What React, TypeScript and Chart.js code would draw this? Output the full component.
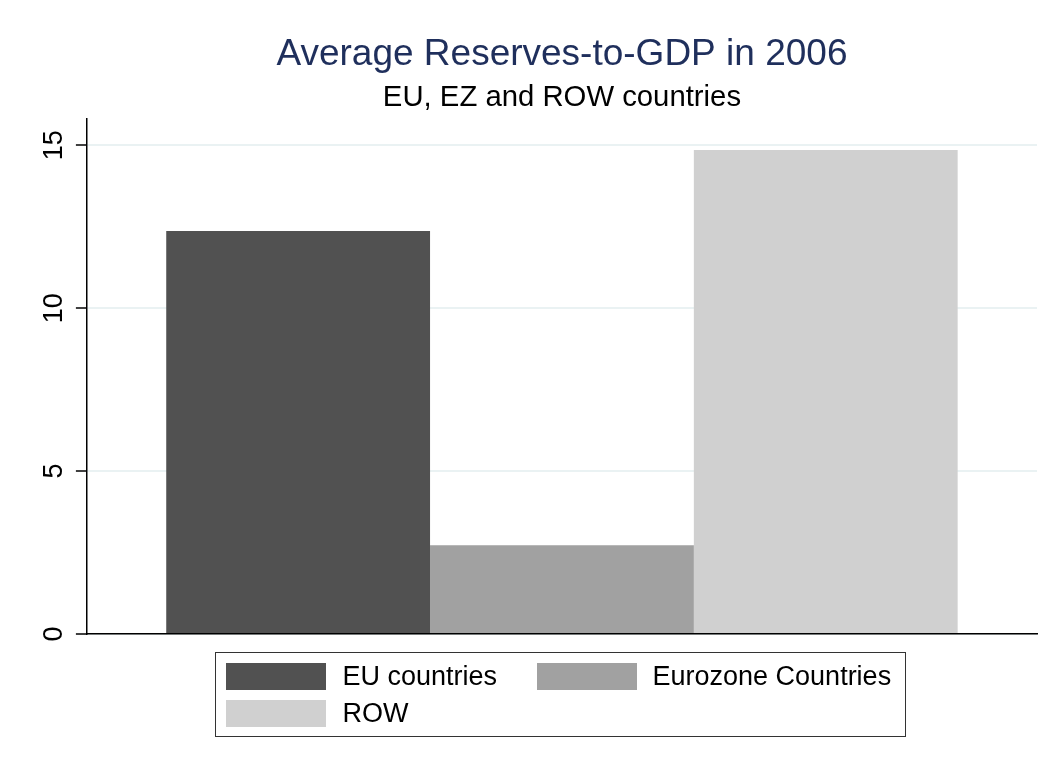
import React, { useEffect, useRef } from 'react';
import { Chart, registerables } from 'chart.js';

Chart.register(...registerables);

const categories = ['2006'];
const seriesNames = ['EU countries', 'Eurozone Countries', 'ROW'];
const euValues = [12.37];
const ezValues = [2.72];
const rowValues = [14.85];
const seriesColors = ['#515151', '#a1a1a1', '#d0d0d0'];
const yTicks = [0, 5, 10, 15];
const yMax = 15.8;
const titleText = 'Average Reserves-to-GDP in 2006';
const subtitleText = 'EU, EZ and ROW countries';

const FONT = '"Liberation Sans", Arial, Helvetica, sans-serif';

export default function App() {
  const canvasRef = useRef<HTMLCanvasElement | null>(null);

  useEffect(() => {
    document.body.style.margin = '0';
    const canvas = canvasRef.current;
    if (!canvas) return;
    const seriesValues = [euValues, ezValues, rowValues];
    const chart = new Chart(canvas, {
      type: 'bar',
      data: {
        labels: categories,
        datasets: seriesNames.map((name, i) => ({
          label: name,
          data: seriesValues[i],
          backgroundColor: seriesColors[i],
          borderWidth: 0,
          barPercentage: 1,
          categoryPercentage: 0.833,
        })),
      },
      options: {
        responsive: false,
        maintainAspectRatio: false,
        animation: false,
        events: [],
        layout: { padding: { left: 30.5, right: 18, top: 0, bottom: 138 } },
        plugins: {
          legend: { display: false },
          tooltip: { enabled: false },
          title: {
            display: true,
            fullSize: false,
            text: titleText,
            color: '#1f2f5c',
            font: { family: FONT, size: 37, weight: 'normal', lineHeight: 1.2 },
            padding: { top: 33, bottom: 3 },
          },
          subtitle: {
            display: true,
            fullSize: false,
            text: subtitleText,
            color: '#000000',
            font: { family: FONT, size: 29.3, weight: 'normal', lineHeight: 1.2 },
            padding: { top: 0, bottom: 3.6 },
          },
        },
        scales: {
          x: {
            grid: { display: false, drawTicks: false },
            ticks: { display: false },
            border: { display: true, color: '#000000', width: 1.5 },
          },
          y: {
            min: 0,
            max: yMax,
            afterBuildTicks: (scale: any) => {
              scale.ticks = yTicks.map((v) => ({ value: v }));
            },
            ticks: {
              minRotation: 90,
              maxRotation: 90,
              crossAlign: 'center',
              padding: 6.5,
              color: '#000000',
              font: { family: FONT, size: 27 },
            },
            grid: {
              color: '#eaf2f3',
              lineWidth: 2,
              tickColor: '#000000',
              tickLength: 11,
              tickWidth: 1.5,
            },
            border: { display: true, color: '#000000', width: 1.5 },
          },
        },
      },
    } as any);
    return () => chart.destroy();
  }, []);

  const legendItems = [
    { name: seriesNames[0], color: seriesColors[0], sx: 11, tx: 128, y: 11 },
    { name: seriesNames[1], color: seriesColors[1], sx: 322, tx: 438, y: 11 },
    { name: seriesNames[2], color: seriesColors[2], sx: 11, tx: 128, y: 48 },
  ];

  return (
    <div style={{ position: 'relative', width: 1055, height: 772, background: '#ffffff' }}>
      <canvas ref={canvasRef} width={1055} height={772} style={{ display: 'block', width: 1055, height: 772 }} />
      <div
        style={{
          position: 'absolute',
          left: 215,
          top: 652,
          width: 691,
          height: 85,
          border: '1.5px solid #333333',
          boxSizing: 'border-box',
          fontFamily: FONT,
          fontSize: 27,
          color: '#000000',
        }}
      >
        {legendItems.map((it) => (
          <React.Fragment key={it.name}>
            <div
              style={{
                position: 'absolute',
                left: it.sx - 1.5,
                top: it.y - 1.5,
                width: 100,
                height: 27,
                background: it.color,
              }}
            />
            <div
              style={{
                position: 'absolute',
                left: it.tx - 1.5,
                top: it.y - 1.5,
                height: 27,
                lineHeight: '27px',
                whiteSpace: 'nowrap',
              }}
            >
              {it.name}
            </div>
          </React.Fragment>
        ))}
      </div>
    </div>
  );
}
